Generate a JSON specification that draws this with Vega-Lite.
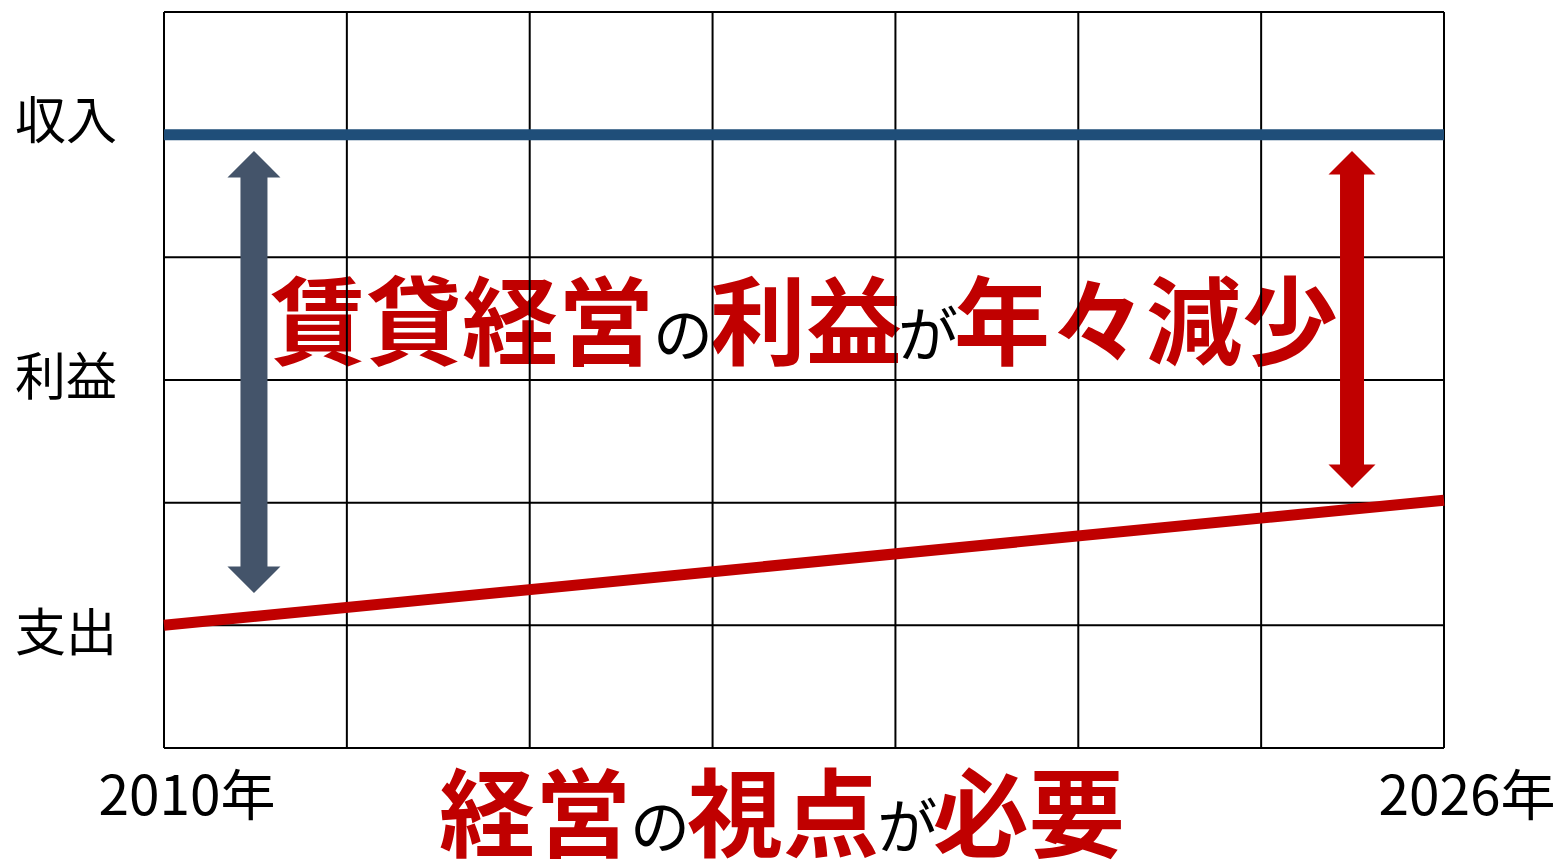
{
  "$schema": "https://vega.github.io/schema/vega-lite/v6.json",
  "width": 1280,
  "height": 736,
  "autosize": "none",
  "padding": {"left": 164, "top": 12, "right": 119, "bottom": 117},
  "background": "white",
  "config": {"view": {"stroke": null}},
  "layer": [
    {
      "data": {"values": [
        {"t": "賃貸経営", "x": 1.630, "y": 3.187},
        {"t": "利益", "x": 3.511, "y": 3.187},
        {"t": "年々減少", "x": 5.370, "y": 3.187},
        {"t": "経営", "x": 2.029, "y": -0.825},
        {"t": "視点", "x": 3.385, "y": -0.825},
        {"t": "必要", "x": 4.729, "y": -0.825}
      ]},
      "mark": {"type": "text", "font": "Noto Sans CJK JP", "fontSize": 96, "fontWeight": "bold", "color": "#C00000", "align": "center", "baseline": "alphabetic"},
      "encoding": {
        "x": {"field": "x", "type": "quantitative", "scale": {"domain": [0, 7], "nice": false, "zero": false}, "axis": null},
        "y": {"field": "y", "type": "quantitative", "scale": {"domain": [0, 6], "nice": false, "zero": false}, "axis": null},
        "text": {"field": "t"}
      }
    },
    {
      "data": {"values": [
        {"t": "の", "x": 2.838, "y": 3.187},
        {"t": "が", "x": 4.178, "y": 3.187},
        {"t": "の", "x": 2.712, "y": -0.825},
        {"t": "が", "x": 4.064, "y": -0.825}
      ]},
      "mark": {"type": "text", "font": "Noto Sans CJK JP", "fontSize": 60, "color": "#000000", "align": "center", "baseline": "alphabetic"},
      "encoding": {
        "x": {"field": "x", "type": "quantitative", "axis": null},
        "y": {"field": "y", "type": "quantitative", "axis": null},
        "text": {"field": "t"}
      }
    },
    {
      "data": {"values": [{"x": 0}, {"x": 1}, {"x": 2}, {"x": 3}, {"x": 4}, {"x": 5}, {"x": 6}, {"x": 7}]},
      "mark": {"type": "rule", "color": "#000000", "strokeWidth": 2},
      "encoding": {"x": {"field": "x", "type": "quantitative", "axis": null}}
    },
    {
      "data": {"values": [{"y": 0}, {"y": 1}, {"y": 2}, {"y": 3}, {"y": 4}, {"y": 5}, {"y": 6}]},
      "mark": {"type": "rule", "color": "#000000", "strokeWidth": 2},
      "encoding": {"y": {"field": "y", "type": "quantitative", "axis": null}}
    },
    {
      "data": {"values": [
        {"s": "収入", "x": 0, "y": 5},
        {"s": "収入", "x": 7, "y": 5},
        {"s": "支出", "x": 0, "y": 1.0},
        {"s": "支出", "x": 7, "y": 2.02}
      ]},
      "mark": {"type": "line", "strokeWidth": 11, "strokeCap": "butt"},
      "encoding": {
        "x": {"field": "x", "type": "quantitative", "axis": null},
        "y": {"field": "y", "type": "quantitative", "axis": null},
        "color": {"field": "s", "type": "nominal", "scale": {"domain": ["収入", "支出"], "range": ["#1F4E79", "#C00000"]}, "legend": null}
      }
    },
    {
      "data": {"values": [{"x": 0.492, "y1": 4.70, "y2": 1.43}]},
      "mark": {"type": "rule", "color": "#44546A", "strokeWidth": 27, "strokeCap": "butt"},
      "encoding": {
        "x": {"field": "x", "type": "quantitative", "axis": null},
        "y": {"field": "y1", "type": "quantitative", "axis": null},
        "y2": {"field": "y2"}
      }
    },
    {
      "data": {"values": [{"x": 0.492, "y": 4.867, "d": "up"}, {"x": 0.492, "y": 1.264, "d": "down"}]},
      "mark": {"type": "point", "filled": true, "opacity": 1, "color": "#44546A", "size": 2809, "strokeWidth": 0},
      "encoding": {
        "x": {"field": "x", "type": "quantitative", "axis": null},
        "y": {"field": "y", "type": "quantitative", "axis": null},
        "shape": {"field": "d", "type": "nominal", "scale": {"domain": ["up", "down"], "range": ["M0,0L1,1L-1,1Z", "M0,0L1,-1L-1,-1Z"]}, "legend": null}
      }
    },
    {
      "data": {"values": [{"x": 6.497, "y1": 4.70, "y2": 2.28}]},
      "mark": {"type": "rule", "color": "#C00000", "strokeWidth": 24, "strokeCap": "butt"},
      "encoding": {
        "x": {"field": "x", "type": "quantitative", "axis": null},
        "y": {"field": "y1", "type": "quantitative", "axis": null},
        "y2": {"field": "y2"}
      }
    },
    {
      "data": {"values": [{"x": 6.497, "y": 4.867, "d": "up"}, {"x": 6.497, "y": 2.120, "d": "down"}]},
      "mark": {"type": "point", "filled": true, "opacity": 1, "color": "#C00000", "size": 2209, "strokeWidth": 0},
      "encoding": {
        "x": {"field": "x", "type": "quantitative", "axis": null},
        "y": {"field": "y", "type": "quantitative", "axis": null},
        "shape": {"field": "d", "type": "nominal", "legend": null}
      }
    },
    {
      "data": {"values": [
        {"t": "収入", "x": -0.536, "y": 5.087},
        {"t": "利益", "x": -0.536, "y": 3.0},
        {"t": "支出", "x": -0.536, "y": 0.913}
      ]},
      "mark": {"type": "text", "font": "Noto Sans CJK JP", "fontSize": 51, "color": "#000000", "align": "center", "baseline": "middle"},
      "encoding": {
        "x": {"field": "x", "type": "quantitative", "axis": null},
        "y": {"field": "y", "type": "quantitative", "axis": null},
        "text": {"field": "t"}
      }
    },
    {
      "data": {"values": [
        {"t": "2010年", "x": 0.126, "y": -0.408},
        {"t": "2026年", "x": 7.126, "y": -0.408}
      ]},
      "mark": {"type": "text", "font": "Noto Sans CJK JP", "fontSize": 55, "color": "#000000", "align": "center", "baseline": "middle"},
      "encoding": {
        "x": {"field": "x", "type": "quantitative", "axis": null},
        "y": {"field": "y", "type": "quantitative", "axis": null},
        "text": {"field": "t"}
      }
    }
  ]
}
